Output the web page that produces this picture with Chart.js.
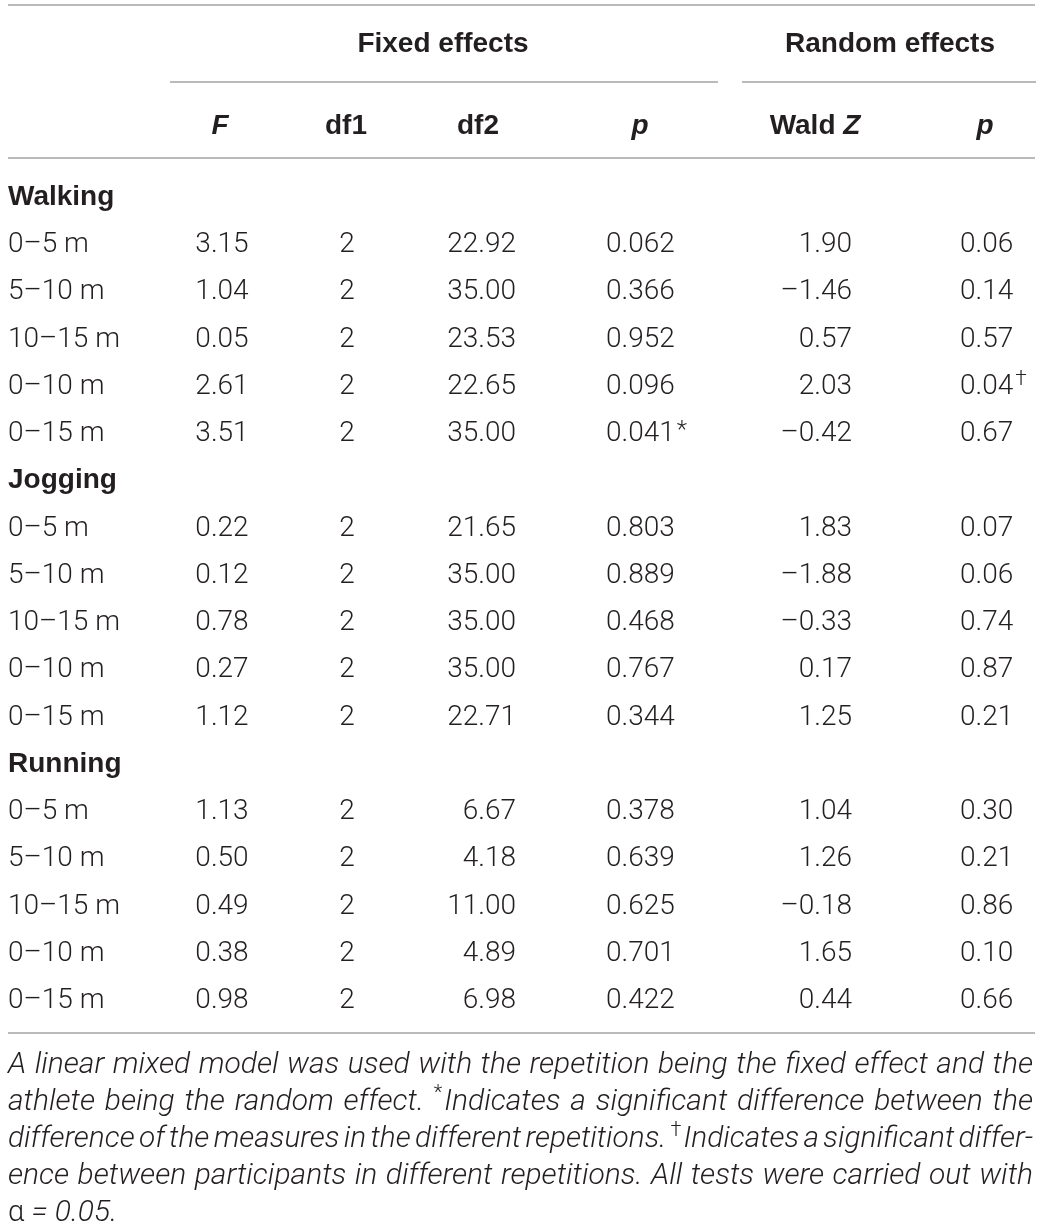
<!DOCTYPE html>
<html>
<head>
<meta charset="utf-8">
<script src="https://cdn.jsdelivr.net/npm/chart.js@4.4.1/dist/chart.umd.min.js"></script>
<style>
  html, body { margin: 0; padding: 0; background: #fff; }
  #wrap { width: 1042px; height: 1227px; position: relative; }
</style>
</head>
<body>
<div id="wrap"><canvas id="tableChart"></canvas></div>
<script>
// table data
const groups = ["Walking", "Jogging", "Running"];
const segments = ["0–5 m", "5–10 m", "10–15 m", "0–10 m", "0–15 m"];

const fValues = [3.15, 1.04, 0.05, 2.61, 3.51, 0.22, 0.12, 0.78, 0.27, 1.12, 1.13, 0.5, 0.49, 0.38, 0.98];
const df1Values = [2, 2, 2, 2, 2, 2, 2, 2, 2, 2, 2, 2, 2, 2, 2];
const df2Values = [22.92, 35.0, 23.53, 22.65, 35.0, 21.65, 35.0, 35.0, 35.0, 22.71, 6.67, 4.18, 11.0, 4.89, 6.98];
const pFixed = [0.062, 0.366, 0.952, 0.096, 0.041, 0.803, 0.889, 0.468, 0.767, 0.344, 0.378, 0.639, 0.625, 0.701, 0.422];
const waldZ = [1.9, -1.46, 0.57, 2.03, -0.42, 1.83, -1.88, -0.33, 0.17, 1.25, 1.04, 1.26, -0.18, 1.65, 0.44];
const pRandom = [0.06, 0.14, 0.57, 0.04, 0.67, 0.07, 0.06, 0.74, 0.87, 0.21, 0.3, 0.21, 0.86, 0.1, 0.66];
const fixedMarks = ["", "", "", "", "*", "", "", "", "", "", "", "", "", "", ""];
const randomMarks = ["", "", "", "†", "", "", "", "", "", "", "", "", "", "", ""];

const footnote = [
  "A linear mixed model was used with the repetition being the fixed effect and the",
  "athlete being the random effect. *Indicates a significant difference between the",
  "difference of the measures in the different repetitions. †Indicates a significant differ-",
  "ence between participants in different repetitions. All tests were carried out with",
];
const footnoteLast = "= 0.05.";

// layout (pixels)
const W = 1042, H = 1227;
const INK = "#231f20";
const RULE = "#a3a3a3";
const LIGHT = "300 28px Roboto";
const BOLD = "bold 28px 'Liberation Sans'";
const BOLD_IT = "italic bold 28px 'Liberation Sans'";
const NOTE = "italic 300 30px Roboto";
const NOTE_SUP = "300 20px Roboto";

// build rows: group heading then its segments
const rowKeys = [];
const dataKeys = [];
groups.forEach((g) => {
  rowKeys.push(g);
  segments.forEach((s) => {
    rowKeys.push(g + "|" + s);
    dataKeys.push(g + "|" + s);
  });
});

const fmt = (v, d) => (v < 0 ? "–" : "") + Math.abs(v).toFixed(d);

function column(label, x, align, texts, marks) {
  return {
    label: label,
    data: dataKeys.map((k) => ({ x: x, y: k })),
    texts: texts,
    marks: marks || [],
    align: align,
    pointRadius: 0,
  };
}

const datasets = [
  {
    label: "rows",
    data: rowKeys.map((k) => ({ x: 8, y: k })),
    texts: rowKeys.map((k) => (k.indexOf("|") < 0 ? k : k.split("|")[1])),
    heads: rowKeys.map((k) => k.indexOf("|") < 0),
    marks: [],
    align: "left",
    pointRadius: 0,
  },
  column("F", 222, "center", fValues.map((v) => fmt(v, 2))),
  column("df1", 347, "center", df1Values.map((v) => String(v))),
  column("df2", 516, "right", df2Values.map((v) => fmt(v, 2))),
  column("p", 606, "left", pFixed.map((v) => fmt(v, 3)), fixedMarks),
  column("Wald Z", 852, "right", waldZ.map((v) => fmt(v, 2))),
  column("p2", 960, "left", pRandom.map((v) => fmt(v, 2)), randomMarks),
];

function rule(ctx, x0, x1, y) {
  ctx.beginPath();
  ctx.moveTo(x0, y);
  ctx.lineTo(x1, y);
  ctx.stroke();
}

// draw a line of footnote words spread over x0..x1
function justifyLine(ctx, text, x0, x1, y, stretch) {
  const words = text.split(" ");
  const parts = words.map((w) => {
    const sup = w[0] === "*" || w[0] === "†" ? w[0] : "";
    const body = sup ? w.slice(1) : w;
    ctx.font = NOTE_SUP;
    const sw = sup ? ctx.measureText(sup).width + 2 : 0;
    ctx.font = NOTE;
    return { sup: sup, body: body, sw: sw, w: sw + ctx.measureText(body).width };
  });
  ctx.font = NOTE;
  const space = ctx.measureText(" ").width;
  const total = parts.reduce((a, p) => a + p.w, 0);
  const gaps = parts.length - 1;
  let gap = stretch ? (x1 - x0 - total) / gaps : space;
  let sx = 1;
  const minGap = space * 0.6;
  if (gap < minGap) {
    sx = (x1 - x0 - minGap * gaps) / total;
    gap = minGap;
  }
  let x = x0;
  parts.forEach((p) => {
    ctx.save();
    ctx.translate(x, y);
    ctx.scale(sx, 1);
    if (p.sup) {
      ctx.font = NOTE_SUP;
      ctx.fillText(p.sup, 0, -11);
    }
    ctx.font = NOTE;
    ctx.fillText(p.body, p.sw, 0);
    ctx.restore();
    x += p.w * sx + gap;
  });
}

const tablePainter = {
  id: "tablePainter",
  afterDatasetsDraw(chart) {
    const ctx = chart.ctx;
    const xs = chart.scales.x;
    ctx.save();
    ctx.fillStyle = INK;
    ctx.textBaseline = "alphabetic";

    // cells
    chart.data.datasets.forEach((ds, i) => {
      const meta = chart.getDatasetMeta(i);
      meta.data.forEach((pt, j) => {
        const txt = ds.texts[j];
        const head = ds.heads && ds.heads[j];
        ctx.font = head ? BOLD : LIGHT;
        ctx.textAlign = ds.align;
        const base = pt.y + 10;
        ctx.fillText(txt, pt.x, base);
        const mark = ds.marks[j];
        if (mark) {
          ctx.textAlign = "left";
          const tw = ctx.measureText(txt).width;
          const mx = ds.align === "left" ? pt.x + tw + 2 : pt.x + 2;
          if (mark === "*") {
            ctx.font = "300 24px Roboto";
            ctx.fillText(mark, mx, base - 4);
          } else {
            ctx.font = "300 21px Roboto";
            ctx.fillText(mark, mx, base - 9);
          }
        }
      });
    });

    // header texts
    ctx.textAlign = "center";
    ctx.font = BOLD;
    ctx.fillText("Fixed effects", xs.getPixelForValue(443), 52);
    ctx.fillText("Random effects", xs.getPixelForValue(890), 52);
    ctx.font = BOLD_IT;
    ctx.fillText("F", xs.getPixelForValue(220), 134);
    ctx.fillText("p", xs.getPixelForValue(640), 134);
    ctx.fillText("p", xs.getPixelForValue(985), 134);
    ctx.font = BOLD;
    ctx.fillText("df1", xs.getPixelForValue(346), 134);
    ctx.fillText("df2", xs.getPixelForValue(478), 134);
    ctx.textAlign = "left";
    const wald = "Wald ";
    const ww = ctx.measureText(wald).width;
    ctx.font = BOLD_IT;
    const zw = ctx.measureText("Z").width;
    const wx = xs.getPixelForValue(815) - (ww + zw) / 2;
    ctx.font = BOLD;
    ctx.fillText(wald, wx, 134);
    ctx.font = BOLD_IT;
    ctx.fillText("Z", wx + ww, 134);

    // rules
    ctx.strokeStyle = RULE;
    ctx.lineWidth = 1.5;
    rule(ctx, 8, 1035, 5);
    rule(ctx, 170, 718, 82);
    rule(ctx, 742, 1036, 82);
    rule(ctx, 8, 1035, 158);
    rule(ctx, 8, 1035, 1033);

    // footnote
    footnote.forEach((line, k) => justifyLine(ctx, line, 8, 1033, 1073 + 37 * k, true));
    ctx.font = "300 29px Roboto";
    ctx.fillText("α", 8, 1221);
    const aw = ctx.measureText("α ").width;
    ctx.font = NOTE;
    ctx.fillText(footnoteLast, 8 + aw, 1221);
    ctx.restore();
  },
};

const tableChart = new Chart(document.getElementById("tableChart"), {
  type: "scatter",
  data: { datasets: datasets },
  options: {
    responsive: true,
    maintainAspectRatio: false,
    animation: false,
    events: [],
    layout: {
      padding: { top: 171.4, bottom: 205.3, left: 0, right: 0 },
    },
    scales: {
      x: { type: "linear", min: 0, max: W, display: false },
      y: { type: "category", labels: rowKeys, offset: true, display: false },
    },
    plugins: {
      legend: { display: false },
      tooltip: { enabled: false },
    },
  },
  plugins: [tablePainter],
});
</script>
</body>
</html>
